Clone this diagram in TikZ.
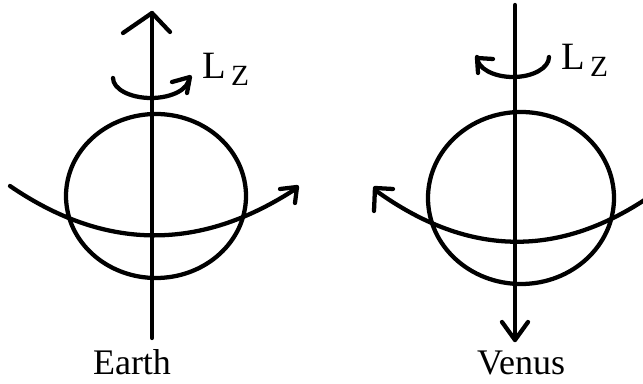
\documentclass[tikz,border=0pt]{standalone}
\usepackage{fontspec}
\setmainfont{Liberation Serif}
\usepackage{xcolor}
\usepackage{tikz}
\definecolor{INK}{HTML}{000000}
\tikzset{
  stroke/.style={line width=3.2pt, line cap=round, line join=round, draw=INK},
  planetname/.style={anchor=base, inner sep=0pt, font=\fontsize{27}{27}\selectfont},
  spinlabel/.style={anchor=base west, inner sep=0pt, font=\fontsize{29}{29}\selectfont},
}
\newcommand{\spinLz}{L\hspace{4pt}\raisebox{-5pt}{\fontsize{22}{22}\selectfont Z}}

\begin{document}
\begin{tikzpicture}[x=0.75pt, y=-0.75pt]

  \useasboundingbox (0,0) rectangle (643,384);

  \begin{scope}
    \clip (0,0) rectangle (643,384);

    % Earth
    \draw[stroke] (152,338) -- (152,13);
    \draw[stroke] (123,33) -- (152,13) -- (170,32);
    \draw[stroke] (156,196) ellipse [x radius=90, y radius=82];
    \draw[stroke] (10,186) .. controls (105,251) and (200,252) .. (297,188);
    \draw[stroke] (280,189) -- (297,187) -- (295,203);
    \draw[stroke] (113,78) arc [start angle=180, end angle=0, x radius=38, y radius=20];
    \draw[stroke] (172,82) -- (190,77) -- (187,93);

    % Venus
    \draw[stroke] (515,5) -- (515,340);
    \draw[stroke] (502,322) -- (515,340) -- (528,322);
    \draw[stroke] (521,198) ellipse [x radius=93, y radius=86];
    \draw[stroke] (375,190) .. controls (470,259) and (564,259) .. (659,190);
    \draw[stroke] (393,189) -- (375,188) -- (374,211);
    \draw[stroke] (549,57) arc [start angle=0, end angle=180, x radius=36, y radius=20];
    \draw[stroke] (493,59) -- (477,58) -- (478,73);
  \end{scope}

  \node[spinlabel] (lzE) at (202,79) {\spinLz};
  \node[spinlabel] (lzV) at (561,70) {\spinLz};

  \node[planetname] (earth) at (132,375) {Earth};
  \node[planetname] (venus) at (521,375) {Venus};

\end{tikzpicture}
\end{document}
